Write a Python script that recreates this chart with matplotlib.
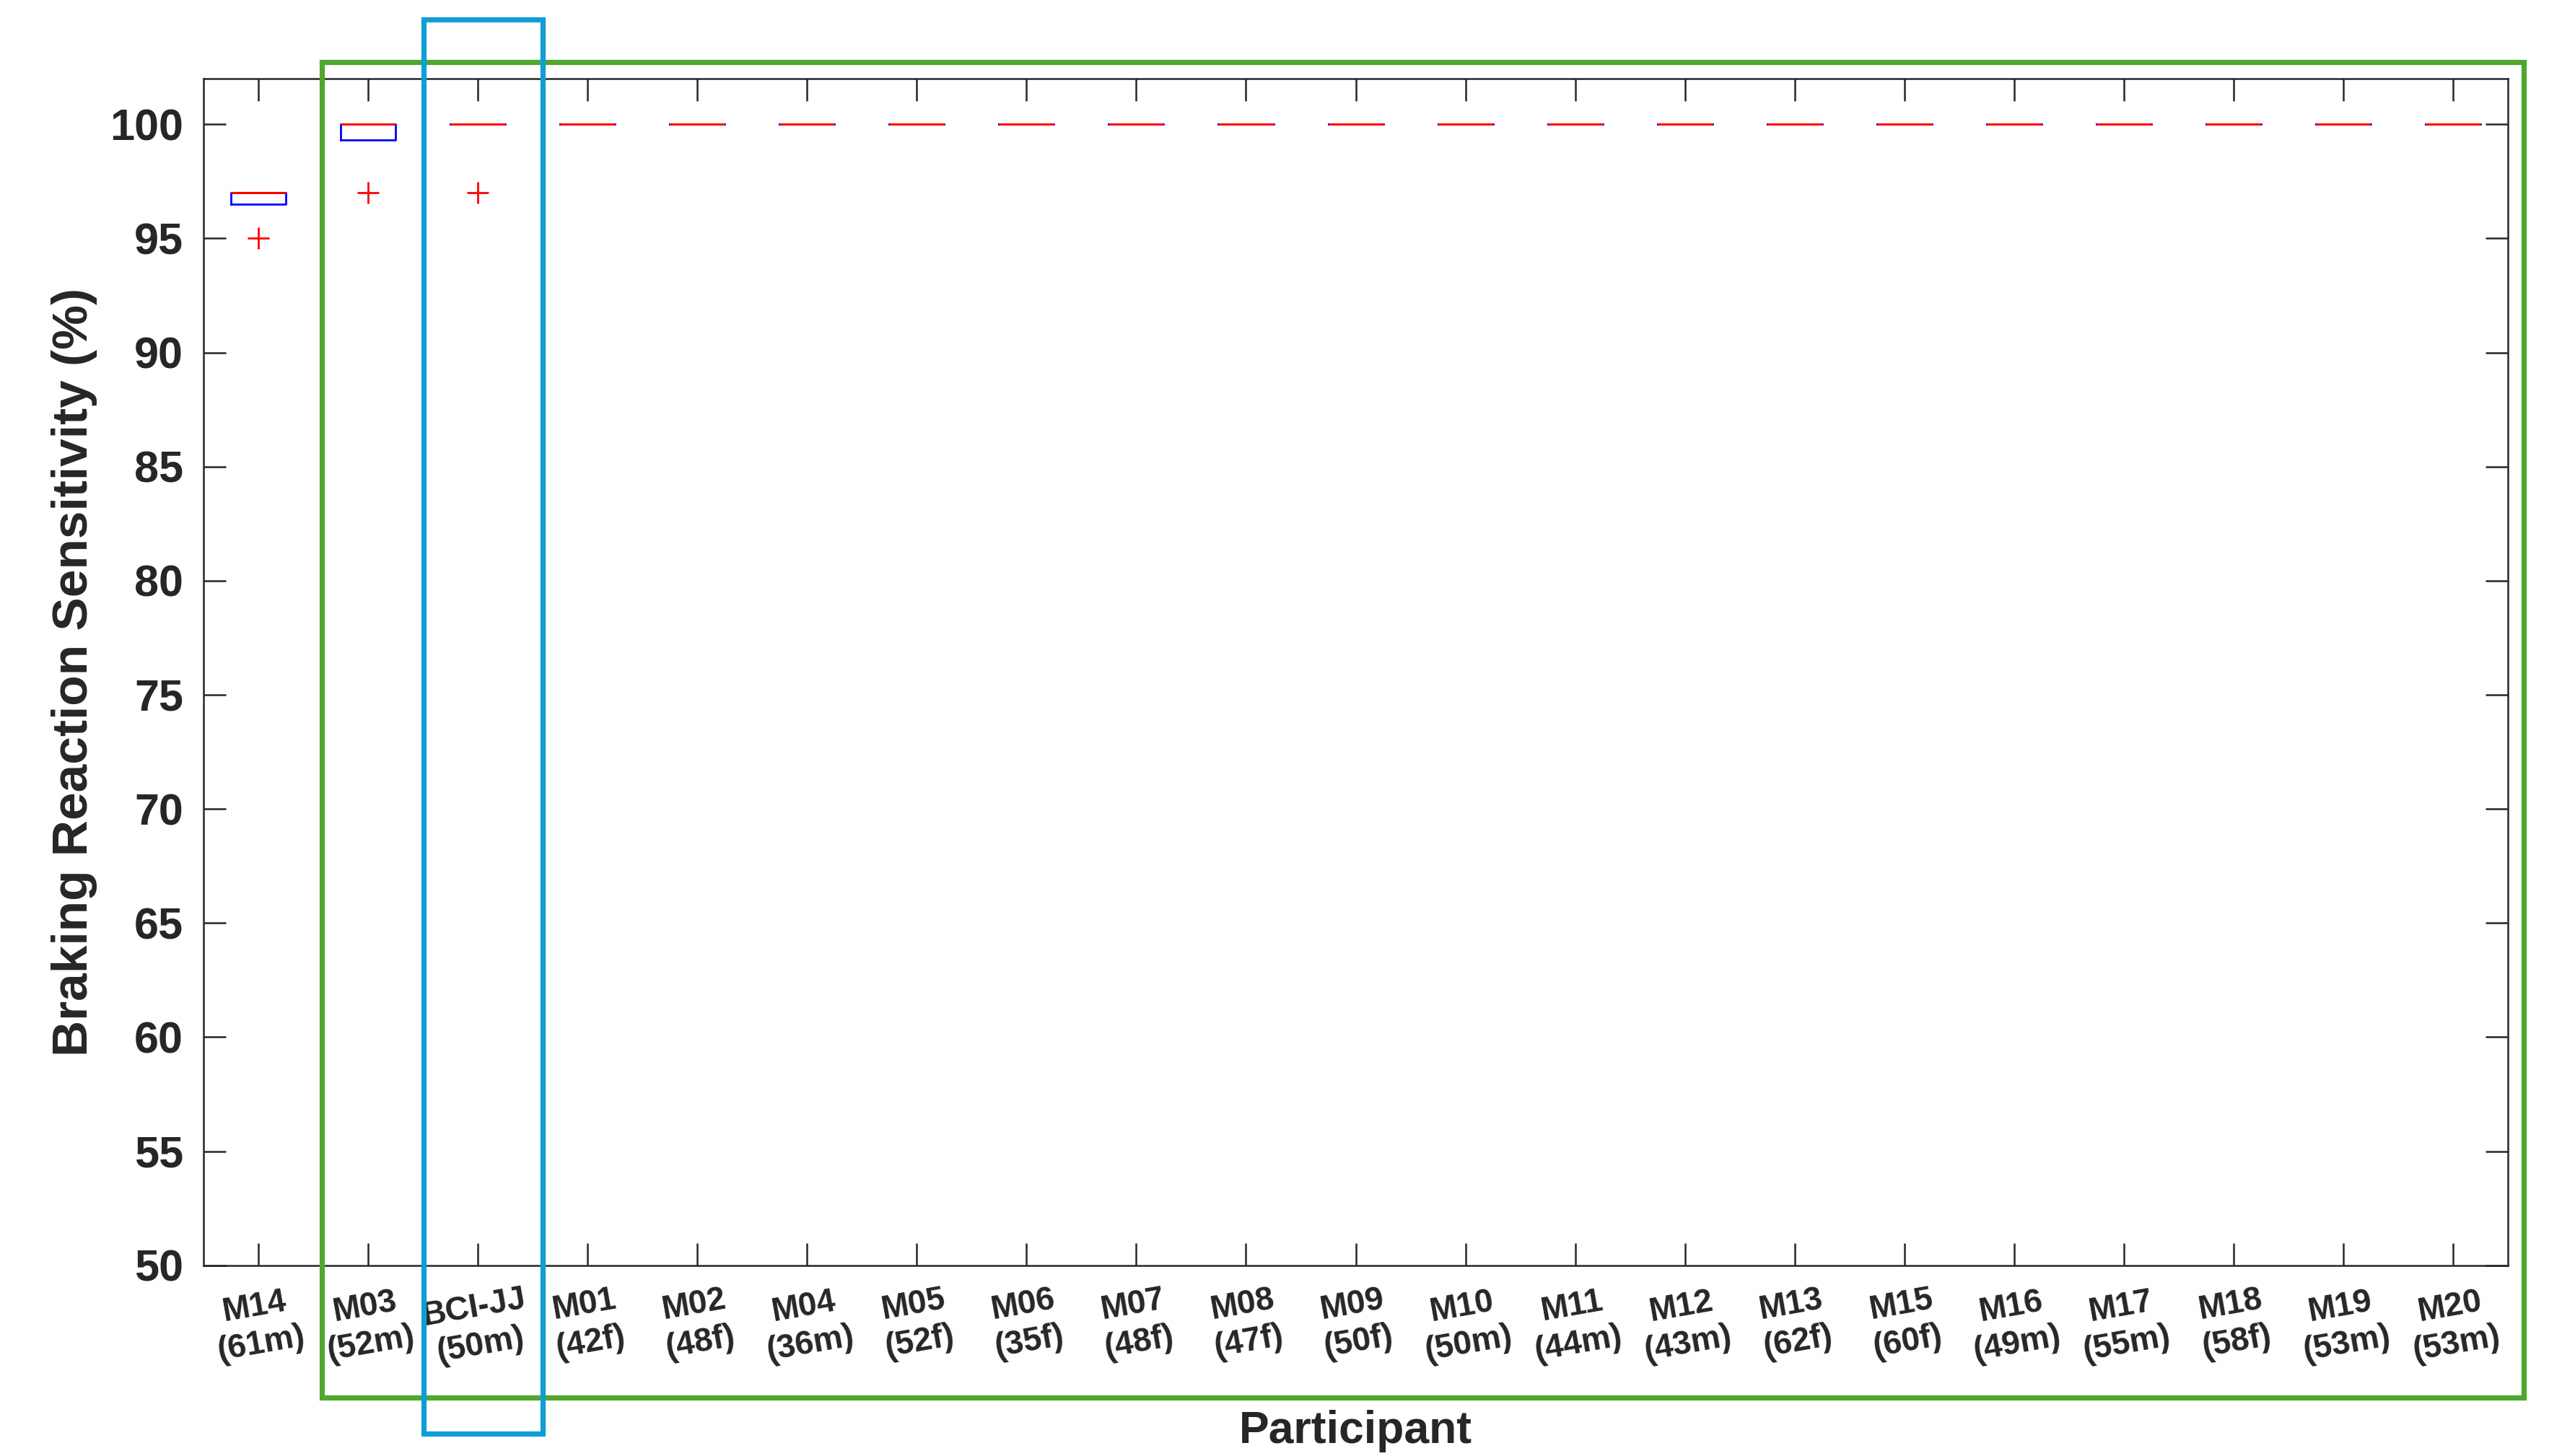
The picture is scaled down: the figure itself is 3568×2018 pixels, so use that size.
import matplotlib.pyplot as plt
from matplotlib.patches import Rectangle

plt.rcParams['font.family'] = ['Liberation Sans', 'DejaVu Sans']

participants = ["M14", "M03", "BCI-JJ", "M01", "M02", "M04", "M05", "M06", "M07", "M08",
                "M09", "M10", "M11", "M12", "M13", "M15", "M16", "M17", "M18", "M19", "M20"]
age_sex = ["61m", "52m", "50m", "42f", "48f", "36m", "52f", "35f", "48f", "47f",
           "50f", "50m", "44m", "43m", "62f", "60f", "49m", "55m", "58f", "53m", "53m"]

q1 = [96.5, 99.3] + [100] * 19
med = [97, 100] + [100] * 19
q3 = [97, 100] + [100] * 19
outliers = [[95], [97], [97]] + [[] for _ in range(18)]

stats = []
for i in range(len(participants)):
    stats.append(dict(med=med[i], q1=q1[i], q3=q3[i], whislo=q1[i], whishi=q3[i],
                      fliers=outliers[i]))

fig = plt.figure(figsize=(17.84, 10.09), dpi=200)
ax = fig.add_axes([0.079, 0.131, 0.895, 0.815])

pos = list(range(1, len(participants) + 1))
ax.bxp(stats, positions=pos, widths=0.5, showcaps=False,
       boxprops=dict(color='blue', lw=1),
       medianprops=dict(color='red', lw=1.1, zorder=3),
       whiskerprops=dict(color='black', ls='--', lw=1),
       flierprops=dict(marker='+', markeredgecolor='red', markersize=11,
                       markeredgewidth=1, linestyle='none'))

ax.set_xlim(0.5, 21.5)
ax.set_ylim(50, 102)
ax.set_yticks(range(50, 101, 5))
ax.set_xticks(pos)
ax.set_xticklabels([f"{p}\n({a})" for p, a in zip(participants, age_sex)],
                   rotation=10, ha='center', multialignment='center',
                   fontsize=16.5, fontweight='bold', color='#262626', linespacing=1.25)
for lab in ax.get_yticklabels():
    lab.set_fontsize(22)
    lab.set_fontweight('bold')
    lab.set_color('#262626')

ax.tick_params(direction='in', length=11, width=0.9, top=True, right=True,
               color='#262626')
ax.tick_params(axis='y', pad=10)
ax.tick_params(axis='x', pad=9)
for s in ax.spines.values():
    s.set_linewidth(0.9)
    s.set_color('#262626')

ax.set_ylabel("Braking Reaction Sensitivity (%)", fontsize=25, fontweight='bold',
              color='#262626')
ax.yaxis.set_label_coords(-0.046, 0.5)
ax.set_xlabel("Participant", fontsize=22.5, fontweight='bold', color='#262626')
ax.xaxis.set_label_coords(0.5, -0.122)

# highlight frames
W, H = 3568, 2018
green = Rectangle((446 / W, 1 - 1937 / H), (3497 - 446) / W, (1937 - 86) / H,
                  transform=fig.transFigure, fill=False, edgecolor='#4EA72E',
                  lw=2.6, clip_on=False)
blue = Rectangle((587 / W, 1 - 1987 / H), (752 - 587) / W, (1987 - 27) / H,
                 transform=fig.transFigure, fill=False, edgecolor='#0F9ED5',
                 lw=2.6, clip_on=False)
fig.patches.extend([green, blue])

fig.savefig("out.png", dpi=200)
